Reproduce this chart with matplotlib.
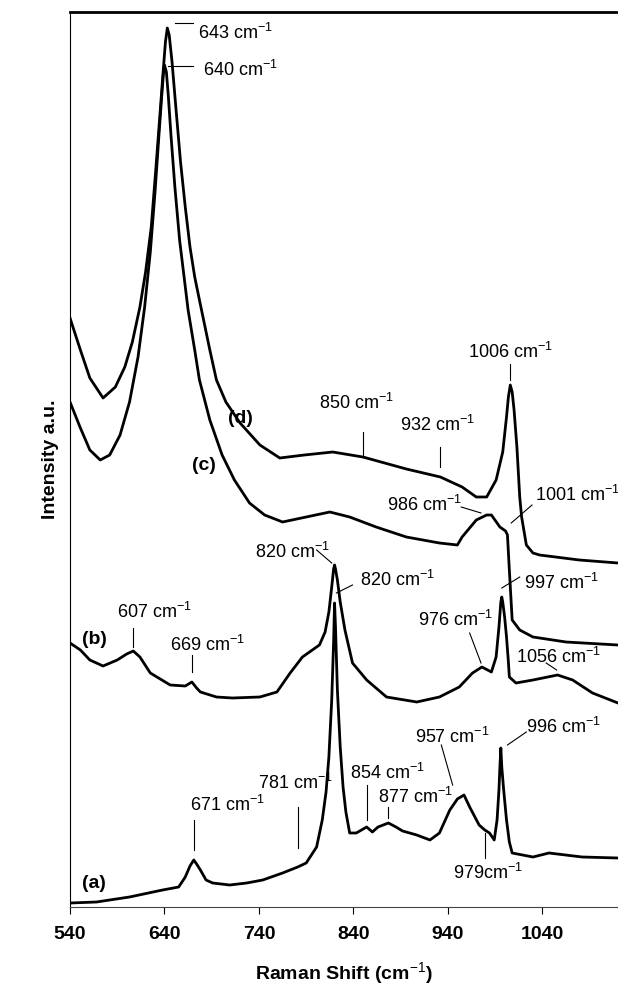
import matplotlib
matplotlib.use("Agg")
import matplotlib.pyplot as plt

plt.rcParams["font.family"] = ["Liberation Sans", "DejaVu Sans"]
plt.rcParams["mathtext.fontset"] = "custom"
plt.rcParams["mathtext.rm"] = "Liberation Sans"
plt.rcParams["mathtext.it"] = "Liberation Sans:italic"
plt.rcParams["mathtext.bf"] = "Liberation Sans:bold"

# Raman-Spektren (a)-(d), Wellenzahl in cm^-1, Intensitaet in willk. Einheiten (gestapelt)
shift_a = [540, 568, 603, 638, 655, 662, 667, 671, 674, 678, 684, 691, 709, 727, 744, 765,
           781, 790, 801, 807, 811, 814, 817, 819, 820, 821, 823, 826, 829, 832, 836, 843,
           854, 860, 866, 877, 885, 892, 907, 921, 931, 942, 950, 957, 963, 973, 979, 984,
           989, 992, 994, 995, 996, 997, 999, 1002, 1005, 1008, 1030, 1047, 1082, 1120]
int_a = [4, 5, 10, 17, 20, 30, 41, 47, 43, 37, 27, 24, 22, 24, 27, 34,
         40, 44, 60, 87, 115, 150, 207, 265, 304, 280, 217, 160, 120, 95, 74, 74,
         80, 75, 80, 84, 80, 76, 72, 67, 74, 97, 108, 112, 100, 82, 77, 74,
         67, 87, 117, 140, 159, 140, 117, 87, 65, 54, 50, 54, 50, 49]

shift_b = [540, 551, 561, 575, 590, 600, 607, 614, 625, 646, 662, 669, 674, 678, 695, 712,
           741, 759, 773, 786, 804, 810, 814, 817, 819, 820, 821, 823, 826, 831, 839, 854,
           875, 907, 931, 952, 966, 976, 982, 986, 991, 994, 996, 997, 998, 1000, 1002,
           1004, 1005, 1012, 1030, 1056, 1072, 1093, 1120]
int_b = [264, 257, 247, 241, 247, 253, 256, 250, 234, 222, 221, 225, 219, 215, 210, 209,
         210, 215, 234, 250, 262, 275, 295, 320, 338, 342, 338, 327, 305, 277, 244, 227,
         210, 205, 210, 220, 234, 240, 237, 235, 250, 280, 305, 310, 305, 290, 270,
         245, 230, 224, 227, 232, 227, 214, 204]

shift_c = [540, 551, 561, 572, 582, 593, 603, 612, 619, 625, 630, 634, 637, 639, 640, 642,
           644, 647, 651, 656, 665, 672, 677, 688, 701, 714, 730, 746, 765, 790, 815, 836,
           864, 896, 931, 950, 955, 970, 981, 986, 995, 1001, 1003, 1005, 1008, 1016, 1030,
           1065, 1120]
int_c = [505, 479, 457, 447, 452, 472, 505, 550, 600, 655, 715, 770, 810, 835, 842, 835,
         812, 770, 720, 667, 597, 557, 527, 487, 452, 427, 404, 392, 385, 390, 395, 390,
         380, 370, 364, 362, 370, 387, 392, 392, 380, 376, 372, 337, 287, 277, 270,
         265, 262]

shift_d = [540, 551, 561, 575, 588, 598, 606, 614, 620, 626, 631, 635, 638, 641, 643, 645,
           648, 652, 657, 662, 667, 672, 677, 688, 695, 705, 720, 741, 762, 788, 818, 850,
           896, 932, 955, 970, 981, 991, 998, 1002, 1004, 1006, 1008, 1010, 1013, 1016,
           1018, 1023, 1030, 1037, 1079, 1120]
int_d = [589, 557, 529, 509, 520, 540, 565, 600, 635, 680, 740, 790, 828, 865, 879, 872,
         845, 800, 745, 700, 660, 630, 607, 557, 527, 505, 484, 462, 449, 452, 455, 450,
         438, 430, 420, 410, 410, 427, 455, 490, 510, 522, 515, 497, 460, 410,
         390, 362, 354, 352, 347, 344]

x_ticks = [540, 640, 740, 840, 940, 1040]

# Beschriftungen: Text, Textposition (links, Mitte), Hinweislinie von -> nach
peak_labels = [
    ("643 cm$^{-1}$", 675, 874, (651, 884), (670, 884)),
    ("640 cm$^{-1}$", 681, 837, (644, 841), (670, 841)),
    ("850 cm$^{-1}$", 804, 504, (850, 475), (850, 450)),
    ("932 cm$^{-1}$", 889, 482, (932, 460), (932, 440)),
    ("1006 cm$^{-1}$", 961, 555, (1006, 543), (1006, 527)),
    ("986 cm$^{-1}$", 875, 402, (954, 400), (975, 394)),
    ("1001 cm$^{-1}$", 1032, 412, (1029, 402), (1007, 384)),
    ("820 cm$^{-1}$", 736, 355, (801, 357), (817, 344)),
    ("820 cm$^{-1}$", 847, 327, (839, 322), (822, 314)),
    ("997 cm$^{-1}$", 1021, 324, (1016, 330), (997, 319)),
    ("976 cm$^{-1}$", 908, 287, (963, 274), (975, 244)),
    ("1056 cm$^{-1}$", 1012, 250, (1044, 244), (1055, 237)),
    ("607 cm$^{-1}$", 590, 295, (607, 279), (607, 260)),
    ("669 cm$^{-1}$", 646, 262, (669, 252), (669, 235)),
    ("671 cm$^{-1}$", 667, 102, (671, 87), (671, 57)),
    ("781 cm$^{-1}$", 739, 124, (781, 100), (781, 59)),
    ("854 cm$^{-1}$", 836, 134, (854, 122), (854, 87)),
    ("877 cm$^{-1}$", 866, 110, (877, 100), (877, 89)),
    ("957 cm$^{-1}$", 905, 170, (933, 162), (945, 122)),
    ("996 cm$^{-1}$", 1023, 180, (1023, 175), (1003, 162)),
    ("979cm$^{-1}$", 945, 34, (979, 74), (979, 49)),
]
curve_names = [("(a)", 553, 24), ("(b)", 553, 267), ("(c)", 669, 442), ("(d)", 707, 489)]

fig = plt.figure(figsize=(6.18, 9.94), dpi=100)
ax = fig.add_axes([70 / 618, 87 / 994, 548 / 618, 895 / 994])

for s, i in [(shift_a, int_a), (shift_b, int_b), (shift_c, int_c), (shift_d, int_d)]:
    ax.plot(s, i, "-", color="black", linewidth=2.0, solid_joinstyle="round")

for txt, tx, ty, p1, p2 in peak_labels:
    ax.plot([p1[0], p2[0]], [p1[1], p2[1]], "-", color="black", linewidth=0.8)
    ax.text(tx, ty, txt, fontsize=13, ha="left", va="center")

for name, tx, ty in curve_names:
    ax.text(tx, ty, name, fontsize=14, fontweight="bold", ha="left", va="center")

ax.set_xlim(540, 1120)
ax.set_ylim(0, 895)
ax.set_xticks(x_ticks)
ax.set_yticks([])
ax.tick_params(axis="x", direction="out", length=5, width=0.8, pad=9, labelsize=14)
for lab in ax.get_xticklabels():
    lab.set_fontweight("bold")

ax.spines["right"].set_visible(False)
ax.spines["top"].set_linewidth(2.0)
ax.spines["left"].set_linewidth(0.8)
ax.spines["bottom"].set_linewidth(0.8)
ax.spines["bottom"].set_color("#444444")

ax.set_xlabel(r"Raman Shift (cm$^{-1}$)", fontsize=14, fontweight="bold", labelpad=12)
ax.set_ylabel("Intensity a.u.", fontsize=14, fontweight="bold", labelpad=8)

fig.savefig("out.png", dpi=100)
